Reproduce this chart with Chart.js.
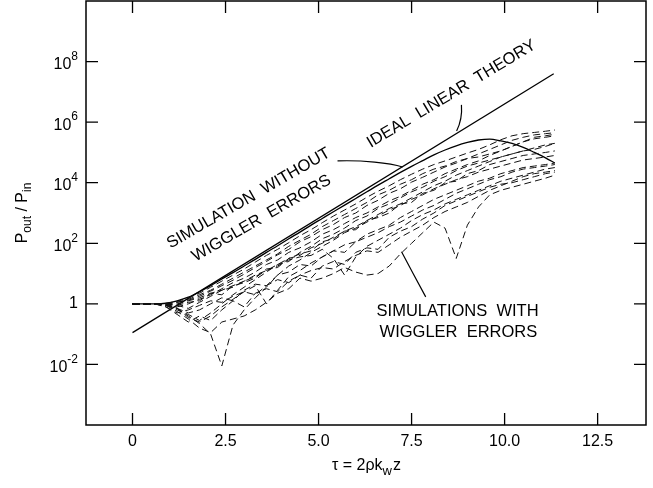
<!DOCTYPE html>
<html>
<head>
<meta charset="utf-8">
<script src="https://cdn.jsdelivr.net/npm/chart.js@4.4.1/dist/chart.umd.min.js"></script>
<style>
  html, body { margin: 0; padding: 0; background: #fff; }
  #wrap { width: 653px; height: 488px; position: relative; }
</style>
</head>
<body>
<div id="wrap"><canvas id="c"></canvas></div>
<script>
/* ================= DATA (y values as log10 of Pout/Pin) ================= */
const xTicks = [0, 2.5, 5.0, 7.5, 10.0, 12.5];
const xTickLabels = ["0", "2.5", "5.0", "7.5", "10.0", "12.5"];
const yTickExp = [-2, 0, 2, 4, 6, 8];

const idealTau = [0, 11.32];
const idealLog = [-0.95, 7.6];

const tau = [0, 0.6, 0.9, 1.2, 1.5, 1.8, 2.1, 2.4, 2.7, 3.0, 3.3, 3.6, 3.9, 4.2, 4.5, 4.8, 5.1, 5.4, 5.7,
  6.0, 6.3, 6.6, 6.9, 7.2, 7.5, 7.8, 8.1, 8.4, 8.7, 9.0, 9.3, 9.6, 9.9, 10.2, 10.5, 10.8, 11.1, 11.35];

const noErrors = [0, 0, 0.02, 0.1, 0.22, 0.4, 0.6, 0.82, 1.03, 1.25, 1.47, 1.7, 1.92, 2.15, 2.37, 2.6, 2.82, 3.04, 3.26,
  3.48, 3.7, 3.92, 4.13, 4.34, 4.54, 4.73, 4.92, 5.08, 5.22, 5.33, 5.41, 5.44, 5.38, 5.3, 5.17, 5.0, 4.82, 4.65];

const err1 = [0, 0, 0.02, 0.08, 0.2, 0.35, 0.55, 0.75, 0.95, 1.15, 1.38, 1.6, 1.8, 2.02, 2.25, 2.45, 2.68, 2.9, 3.1,
  3.3, 3.52, 3.72, 3.9, 4.1, 4.28, 4.45, 4.6, 4.72, 4.85, 4.98, 5.1, 5.25, 5.42, 5.55, 5.62, 5.66, 5.7, 5.74];
const err2 = [0, 0, 0, 0.05, 0.12, 0.25, 0.42, 0.6, 0.78, 0.98, 1.2, 1.4, 1.62, 1.8, 2.05, 2.22, 2.45, 2.62, 2.85,
  3.0, 3.25, 3.42, 3.65, 3.8, 4.02, 4.18, 4.35, 4.52, 4.65, 4.8, 4.95, 5.1, 5.25, 5.4, 5.5, 5.58, 5.62, 5.65];
const err3 = [0, 0, -0.05, -0.1, 0.0, 0.15, 0.3, 0.5, 0.7, 0.85, 1.05, 1.3, 1.45, 1.7, 1.85, 2.05, 2.3, 2.45, 2.65,
  2.85, 3.0, 3.2, 3.4, 3.55, 3.75, 3.95, 4.1, 4.3, 4.45, 4.6, 4.72, 4.9, 5.05, 5.2, 5.35, 5.45, 5.5, 5.55];
const err4 = [0, 0, -0.05, -0.2, -0.35, -0.55, -0.3, 0.0, 0.3, 0.55, 0.8, 1.05, 1.3, 1.4, 1.7, 1.9, 2.15, 2.3, 2.5,
  2.75, 2.9, 3.15, 3.3, 3.5, 3.7, 3.85, 4.05, 4.2, 4.4, 4.55, 4.65, 4.75, 4.85, 4.95, 5.05, 5.1, 5.2, 5.3];
const err5 = [0, 0, 0.0, -0.15, -0.4, -0.65, -1.0, -2.05, -0.7, -0.2, 0.2, 0.55, 0.95, 1.25, 1.45, 1.7, 1.9, 2.1, 2.35,
  2.5, 2.7, 2.9, 3.1, 3.25, 3.45, 3.6, 3.8, 3.95, 4.1, 4.2, 4.35, 4.45, 4.55, 4.65, 4.75, 4.8, 4.85, 4.9];
const err6 = [0, 0, -0.05, -0.25, -0.5, -0.8, -0.95, -0.6, -0.5, -0.4, -0.2, 0.05, 0.35, 0.5, 0.85, 0.75, 0.85, 1.0, 1.2,
  1.05, 0.95, 1.0, 1.25, 1.65, 2.0, 2.35, 2.7, 2.5, 1.5, 2.6, 3.2, 3.6, 3.75, 3.85, 3.95, 4.05, 4.15, 4.25];
const err7 = [0, 0, 0.0, -0.15, -0.45, -0.6, -0.4, -0.1, 0.15, 0.4, 0.6, 0.0, 0.45, 0.9, 1.1, 1.35, 1.55, 1.75, 1.95,
  2.05, 2.3, 2.45, 2.6, 2.85, 3.05, 3.25, 3.45, 3.6, 3.75, 3.9, 4.05, 4.15, 4.3, 4.4, 4.5, 4.55, 4.6, 4.65];
const err8 = [0, 0, 0.0, 0.0, 0.1, 0.2, 0.35, 0.45, 0.6, 0.75, 0.95, 1.1, 1.3, 1.5, 1.6, 1.85, 2.0, 2.2, 2.4,
  2.55, 2.75, 2.95, 3.15, 3.3, 3.5, 3.7, 3.9, 4.05, 4.25, 4.4, 4.55, 4.7, 4.85, 4.95, 5.05, 5.15, 5.25, 5.3];
const err9 = [0, 0, -0.1, -0.3, -0.2, -0.05, 0.1, 0.05, 0.25, 0.4, 0.3, 0.6, 0.8, 0.7, 0.95, 1.1, 1.2, 1.15, 1.4,
  1.6, 1.75, 1.7, 1.95, 2.2, 2.4, 2.6, 2.85, 3.05, 3.2, 3.35, 3.55, 3.75, 3.9, 4.05, 4.2, 4.3, 4.35, 4.4];
const err10 = [0, 0, 0.0, -0.05, -0.15, 0.05, 0.25, 0.45, 0.55, 0.75, 0.9, 1.1, 1.25, 1.45, 1.55, 1.6, 1.8, 1.5, 0.95,
  1.55, 1.9, 2.1, 2.3, 2.5, 2.75, 2.95, 3.1, 3.3, 3.45, 3.6, 3.75, 3.9, 4.05, 4.15, 4.25, 4.35, 4.45, 4.5];
const err11 = [0, 0, 0.0, 0.05, 0.15, 0.3, 0.45, 0.65, 0.85, 1.05, 1.25, 1.45, 1.65, 1.9, 2.1, 2.3, 2.55, 2.75, 2.95,
  3.15, 3.35, 3.6, 3.75, 3.95, 4.1, 4.3, 4.45, 4.55, 4.7, 4.8, 4.85, 4.95, 5.05, 5.2, 5.35, 5.5, 5.55, 5.6];
const err12 = [0, 0, -0.1, -0.35, -0.6, -0.4, -0.55, -0.2, 0.1, -0.1, 0.35, 0.5, 0.4, 0.75, 0.95, 0.85, 1.25, 1.4, 1.3,
  1.7, 1.85, 1.8, 2.2, 2.4, 2.55, 2.8, 3.0, 3.25, 3.4, 3.55, 3.7, 3.85, 3.95, 4.0, 4.1, 4.2, 4.3, 4.35];
const err13 = [0, 0, 0.0, -0.05, 0.05, 0.1, 0.35, 0.3, 0.6, 0.7, 0.85, 1.15, 1.2, 1.5, 1.65, 1.75, 2.05, 2.15, 2.4,
  2.45, 2.75, 2.85, 3.0, 3.3, 3.35, 3.65, 3.75, 4.0, 4.05, 4.3, 4.4, 4.6, 4.7, 4.8, 4.9, 4.95, 5.0, 5.05];
const err14 = [0, 0, -0.05, -0.15, -0.3, -0.2, 0.0, 0.2, 0.1, 0.45, 0.65, 0.6, 0.95, 1.05, 1.3, 1.25, 1.55, 1.75, 1.7,
  2.05, 2.2, 2.35, 2.55, 2.7, 2.9, 3.1, 3.25, 3.45, 3.65, 3.8, 3.95, 4.1, 4.2, 4.35, 4.45, 4.5, 4.55, 4.6];

const errSeries = [err1, err2, err3, err4, err5, err6, err7, err8, err9, err10, err11, err12, err13, err14];

/* annotation anchors in data units (tau, log10 P) */
const pointerIdeal = [[8.84, 6.57], [8.87, 6.1], [8.71, 5.71]];
const pointerNoErr = [[5.51, 4.72], [6.18, 4.75], [6.91, 4.65], [7.26, 4.52]];
const pointerErr = [[7.23, 1.72], [7.53, 1.02], [7.88, 0.23]];

/* ================= HELPERS ================= */
const pts = (xs, logs) => xs.map((x, i) => ({ x, y: Math.pow(10, logs[i]) }));
const FONT = '"Liberation Sans", Arial, Helvetica, sans-serif';

const datasets = [];
errSeries.forEach(s => {
  datasets.push({
    data: pts(tau, s),
    borderColor: "#111", borderWidth: 1, borderDash: [7, 4],
    pointRadius: 0, tension: 0
  });
});
datasets.push({
  data: pts(tau, noErrors),
  borderColor: "#000", borderWidth: 1.3,
  pointRadius: 0, cubicInterpolationMode: "monotone"
});
datasets.push({
  data: pts(idealTau, idealLog),
  borderColor: "#000", borderWidth: 1.3,
  pointRadius: 0, tension: 0
});

/* ================= FRAME / LABELS PLUGIN ================= */
const framePlugin = {
  id: "frame",
  afterDatasetsDraw(chart) {
    const { ctx, chartArea: a, scales: { x, y } } = chart;
    const px = t => x.getPixelForValue(t);
    const py = l => y.getPixelForValue(Math.pow(10, l));
    ctx.save();
    ctx.strokeStyle = "#000";
    ctx.fillStyle = "#000";
    ctx.lineWidth = 1.5;
    ctx.setLineDash([]);
    ctx.strokeRect(a.left, a.top, a.right - a.left, a.bottom - a.top);

    // inward ticks
    const TL = 12;
    ctx.lineWidth = 1.3;
    ctx.beginPath();
    xTicks.forEach(t => {
      const p = px(t);
      ctx.moveTo(p, a.bottom); ctx.lineTo(p, a.bottom - TL);
      ctx.moveTo(p, a.top); ctx.lineTo(p, a.top + TL);
    });
    yTickExp.forEach(e => {
      const p = py(e);
      ctx.moveTo(a.left, p); ctx.lineTo(a.left + TL, p);
      ctx.moveTo(a.right, p); ctx.lineTo(a.right - TL, p);
    });
    ctx.stroke();

    // x tick labels
    ctx.font = "16px " + FONT;
    ctx.textAlign = "center";
    ctx.textBaseline = "middle";
    xTicks.forEach((t, i) => ctx.fillText(xTickLabels[i], px(t), a.bottom + 17));

    // y tick labels
    yTickExp.forEach(e => {
      const p = py(e);
      const right = a.left - 8;
      ctx.textAlign = "right";
      if (e === 0) {
        ctx.font = "16px " + FONT;
        ctx.fillText("1", right, p);
        return;
      }
      const exp = String(e);
      ctx.font = "12px " + FONT;
      const ew = ctx.measureText(exp).width;
      ctx.fillText(exp, right, p - 5);
      ctx.font = "16px " + FONT;
      ctx.fillText("10", right - ew, p + 3);
    });

    // x title: tau = 2 rho k_w z
    const cx = (a.left + a.right) / 2, ty = a.bottom + 41;
    ctx.textAlign = "left";
    const p1 = "\u03C4 = 2\u03C1k", p2 = "w", p3 = "z";
    ctx.font = "16px " + FONT; const w1 = ctx.measureText(p1).width;
    ctx.font = "13px " + FONT; const w2 = ctx.measureText(p2).width;
    ctx.font = "16px " + FONT; const w3 = ctx.measureText(p3).width;
    let sx = cx - (w1 + w2 + w3) / 2;
    ctx.fillText(p1, sx, ty); sx += w1;
    ctx.font = "13px " + FONT; ctx.fillText(p2, sx, ty + 5); sx += w2;
    ctx.font = "16px " + FONT; ctx.fillText(p3, sx + 1, ty);

    // y title: P_out / P_in (rotated)
    ctx.save();
    ctx.translate(a.left - 63, (a.top + a.bottom) / 2);
    ctx.rotate(-Math.PI / 2);
    const parts = [["P", 16, 0], ["out", 12, 5], [" / P", 16, 0], ["in", 12, 5]];
    let tw = 0;
    parts.forEach(([s, f]) => { ctx.font = f + "px " + FONT; tw += ctx.measureText(s).width; });
    let ox = -tw / 2;
    ctx.textAlign = "left";
    parts.forEach(([s, f, d]) => {
      ctx.font = f + "px " + FONT;
      ctx.fillText(s, ox, d);
      ox += ctx.measureText(s).width;
    });
    ctx.restore();

    // pointers
    ctx.lineWidth = 1.2;
    [pointerIdeal, pointerNoErr, pointerErr].forEach(list => {
      ctx.beginPath();
      ctx.moveTo(px(list[0][0]), py(list[0][1]));
      if (list.length === 3) {
        ctx.quadraticCurveTo(px(list[1][0]), py(list[1][1]), px(list[2][0]), py(list[2][1]));
      } else {
        ctx.bezierCurveTo(px(list[1][0]), py(list[1][1]), px(list[2][0]), py(list[2][1]), px(list[3][0]), py(list[3][1]));
      }
      ctx.stroke();
    });

    // rotated labels
    const rotText = (s, t, l, deg) => {
      ctx.save();
      ctx.translate(px(t), py(l));
      ctx.rotate(deg * Math.PI / 180);
      ctx.textAlign = "left";
      ctx.textBaseline = "alphabetic";
      ctx.font = "16.5px " + FONT;
      ctx.fillText(s, 0, 0);
      ctx.restore();
    };
    rotText("IDEAL  LINEAR  THEORY", 6.40, 5.15, -31);
    rotText("SIMULATION  WITHOUT", 1.02, 1.82, -30);
    rotText("WIGGLER  ERRORS", 1.69, 1.39, -30);

    ctx.font = "16.5px " + FONT;
    ctx.textAlign = "left";
    ctx.textBaseline = "alphabetic";
    ctx.fillText("SIMULATIONS  WITH", px(6.56), py(-0.4));
    ctx.fillText("WIGGLER  ERRORS", px(6.64), py(-1.09));
    ctx.restore();
  }
};

new Chart(document.getElementById("c"), {
  type: "scatter",
  data: { datasets: datasets.map(d => Object.assign({ showLine: true, fill: false }, d)) },
  options: {
    responsive: true,
    maintainAspectRatio: false,
    animation: false,
    events: [],
    layout: { padding: { left: 86, top: 1, right: 7, bottom: 63 } },
    plugins: { legend: { display: false }, tooltip: { enabled: false } },
    scales: {
      x: { type: "linear", min: -1.25, max: 13.8, display: false },
      y: { type: "logarithmic", min: 1e-4, max: 1e10, display: false }
    }
  },
  plugins: [framePlugin]
});
</script>
</body>
</html>
